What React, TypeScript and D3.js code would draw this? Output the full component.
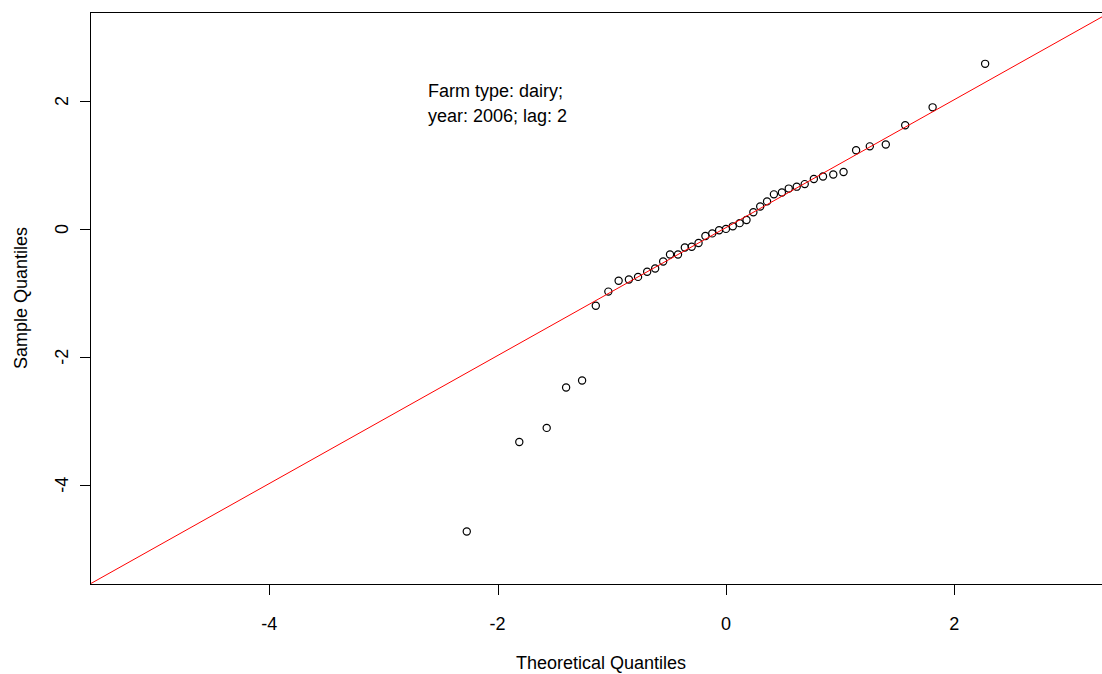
import React from 'react';
import * as d3 from 'd3';

// normal QQ plot: theoretical vs sample quantiles
const theoretical = [
  -2.27, -1.81, -1.57, -1.4, -1.26, -1.14, -1.03, -0.94, -0.85, -0.77, -0.69,
  -0.62, -0.55, -0.49, -0.42, -0.36, -0.3, -0.24, -0.18, -0.12, -0.06, 0,
  0.06, 0.12, 0.18, 0.24, 0.3, 0.36, 0.42, 0.49, 0.55, 0.62, 0.69, 0.77,
  0.85, 0.94, 1.03, 1.14, 1.26, 1.4, 1.57, 1.81, 2.27,
];
const sample = [
  -4.73, -3.33, -3.11, -2.48, -2.37, -1.2, -0.98, -0.81, -0.79, -0.75, -0.67,
  -0.62, -0.51, -0.4, -0.4, -0.29, -0.28, -0.22, -0.11, -0.07, -0.02, 0,
  0.04, 0.09, 0.14, 0.26, 0.35, 0.43, 0.54, 0.57, 0.63, 0.66, 0.7, 0.78,
  0.82, 0.85, 0.89, 1.23, 1.29, 1.32, 1.62, 1.9, 2.58,
];
const xTicks = [-4, -2, 0, 2];
const yTicks = [-4, -2, 0, 2];
const qqIntercept = 0.02;
const qqSlope = 1.0;
const noteLines = ['Farm type: dairy;', 'year: 2006; lag: 2'];

const W = 1102;
const H = 674;
const FONT = '"Liberation Sans", Arial, Helvetica, sans-serif';

export default function App() {
  // plot box (right edge runs past the picture)
  const left = 90, top = 12, bottom = 584, right = 1113;
  const x = d3.scaleLinear().domain([-5.57, 3.39]).range([left, right]);
  const y = d3.scaleLinear().domain([-5.55, 3.39]).range([bottom, top]);

  const xd = x.domain();
  const line = d3.line<number>()
    .x(d => x(d))
    .y(d => y(qqIntercept + qqSlope * d));

  return (
    <svg width={W} height={H} style={{ position: 'absolute', left: 0, top: 0, background: '#fff' }}
      fontFamily={FONT}>
      <defs>
        <clipPath id="plotclip">
          <rect x={left} y={top} width={right - left} height={bottom - top} />
        </clipPath>
      </defs>
      <rect x={0} y={0} width={W} height={H} fill="#fff" />

      {/* points */}
      {sample.map((s, i) => (
        <circle key={i} cx={x(theoretical[i])} cy={y(s)} r={3.6}
          fill="none" stroke="#000" strokeWidth={1.2} />
      ))}

      {/* qq line */}
      <path d={line(xd) || ''} clipPath="url(#plotclip)" fill="none" stroke="#ff0000" strokeWidth={1} />

      {/* box */}
      <rect x={left + 0.5} y={top + 0.5} width={right - left} height={bottom - top}
        fill="none" stroke="#000" strokeWidth={1} />

      {/* x axis */}
      {xTicks.map(t => (
        <g key={t}>
          <line x1={Math.round(x(t)) + 0.5} x2={Math.round(x(t)) + 0.5} y1={bottom} y2={bottom + 11} stroke="#000" />
          <text x={x(t)} y={630} fontSize={18} textAnchor="middle">{t}</text>
        </g>
      ))}
      <text x={601} y={669} fontSize={18} textAnchor="middle">Theoretical Quantiles</text>

      {/* y axis */}
      {yTicks.map(t => (
        <g key={t}>
          <line x1={left - 10} x2={left} y1={Math.round(y(t)) + 0.5} y2={Math.round(y(t)) + 0.5} stroke="#000" />
          <text transform={`translate(68,${y(t)}) rotate(-90)`} fontSize={18} textAnchor="middle">{t}</text>
        </g>
      ))}
      <text transform={`translate(27,${(top + bottom) / 2}) rotate(-90)`} fontSize={18} textAnchor="middle">
        Sample Quantiles
      </text>

      {/* annotation */}
      {noteLines.map((s, i) => (
        <text key={i} x={428} y={97 + i * 25} fontSize={18}>{s}</text>
      ))}
    </svg>
  );
}
